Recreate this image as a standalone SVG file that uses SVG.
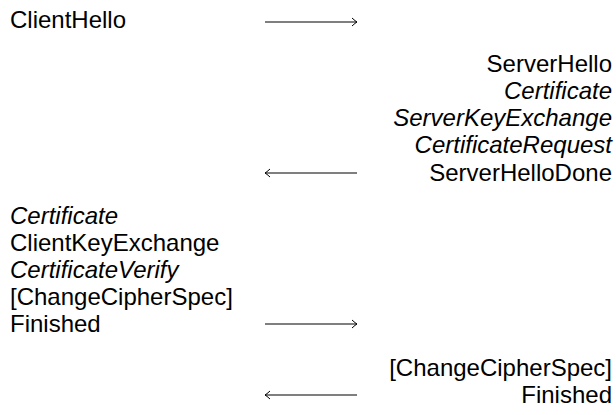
<svg xmlns="http://www.w3.org/2000/svg" width="616" height="415" viewBox="0 0 616 415">
<style>
text{font-family:"Liberation Sans",Arial,sans-serif;font-size:24px;fill:#000}
.r{text-anchor:end}
.i{font-style:italic}
.arr{stroke:#000;stroke-width:1.2;fill:none}
</style>
<defs>
<marker id="ah" viewBox="-8 -5 10 10" markerWidth="10" markerHeight="10" refX="0" refY="0" orient="auto" markerUnits="userSpaceOnUse">
<path d="M-5,-4 Q-1.5,-0.8 0,0 Q-1.5,0.8 -5,4" fill="none" stroke="#000" stroke-width="1"/>
</marker>
</defs>
<rect width="616" height="415" fill="#fff"/>
<g id="client">
<g id="n-clienthello"><text x="10" y="28">ClientHello</text></g>
<g id="n-c-certificate"><text class="i" x="10" y="224">Certificate</text></g>
<g id="n-clientkeyexchange"><text x="10" y="251">ClientKeyExchange</text></g>
<g id="n-certificateverify"><text class="i" x="10" y="278">CertificateVerify</text></g>
<g id="n-c-ccs"><text x="10" y="305">[ChangeCipherSpec]</text></g>
<g id="n-c-finished"><text x="10" y="332">Finished</text></g>
</g>
<g id="server">
<g id="n-serverhello"><text class="r" x="612" y="72">ServerHello</text></g>
<g id="n-s-certificate"><text class="r i" x="612" y="99">Certificate</text></g>
<g id="n-serverkeyexchange"><text class="r i" x="612" y="126">ServerKeyExchange</text></g>
<g id="n-certificaterequest"><text class="r i" x="612" y="153">CertificateRequest</text></g>
<g id="n-serverhellodone"><text class="r" x="612" y="181">ServerHelloDone</text></g>
<g id="n-s-ccs"><text class="r" x="612" y="376">[ChangeCipherSpec]</text></g>
<g id="n-s-finished"><text class="r" x="612" y="403">Finished</text></g>
</g>
<g id="connectors">
<line class="arr" x1="265" y1="22" x2="357" y2="22" marker-end="url(#ah)"/>
<line class="arr" x1="357" y1="173" x2="265" y2="173" marker-end="url(#ah)"/>
<line class="arr" x1="265" y1="324" x2="357" y2="324" marker-end="url(#ah)"/>
<line class="arr" x1="357" y1="395" x2="265" y2="395" marker-end="url(#ah)"/>
</g>
</svg>
